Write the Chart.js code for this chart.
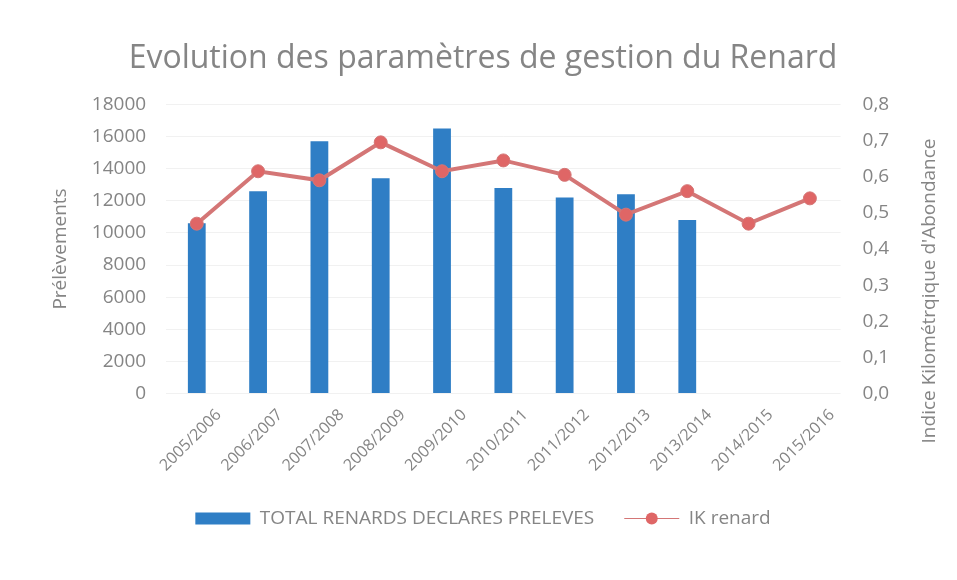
<!DOCTYPE html>
<html>
<head>
<meta charset="utf-8">
<script src="https://cdn.jsdelivr.net/npm/chart.js@4"></script>
<style>
  html, body { margin: 0; padding: 0; background: #ffffff; }
  #wrap { width: 957px; height: 580px; }
</style>
</head>
<body>
<div id="wrap"><canvas id="chart-renard" width="957" height="580"></canvas></div>
<script>
// Saisons
const categories = ['2005/2006', '2006/2007', '2007/2008', '2008/2009', '2009/2010',
    '2010/2011', '2011/2012', '2012/2013', '2013/2014', '2014/2015', '2015/2016'];

// Prélèvements déclarés (axe de gauche)
const prelevements = [10600, 12600, 15700, 13400, 16500, 12800, 12200, 12400, 10800, null, null];

// IK renard (axe de droite)
const ikRenard = [0.47, 0.615, 0.59, 0.695, 0.615, 0.645, 0.605, 0.495, 0.56, 0.47, 0.54];

// Axes
const leftTicks = { min: 0, max: 18000, step: 2000 };
const rightTicks = { min: 0, max: 0.8, step: 0.1 };

const grey = '#858585';
const barBlue = '#2f7ec5';
const lineRed = '#d47676';
const pointRed = '#df6666';
const fontFamily = '"Open Sans", "Noto Sans", sans-serif';

Chart.defaults.font.family = fontFamily;
Chart.defaults.color = grey;

// Titre de l'axe de droite, écrit de bas en haut comme dans Excel
const rightTitle = {
    id: 'rightTitle',
    afterDraw(chart) {
        const s = chart.scales.y1;
        const ctx = chart.ctx;
        ctx.save();
        ctx.translate(s.right - 5 - 11, (chart.chartArea.top + chart.chartArea.bottom) / 2 + 42);
        ctx.rotate(-Math.PI / 2);
        ctx.font = '19px ' + fontFamily;
        ctx.fillStyle = grey;
        ctx.textAlign = 'center';
        ctx.textBaseline = 'middle';
        ctx.fillText("Indice Kilométrqique d'Abondance", 0, 0);
        ctx.restore();
    }
};

// Petit rond sur le symbole de ligne de la légende
const legendMarker = {
    id: 'legendMarker',
    afterDraw(chart) {
        const lg = chart.legend;
        if (!lg || !lg.legendHitBoxes || lg.legendHitBoxes.length < 2) return;
        const box = lg.legendHitBoxes[1];
        const w = lg.options.labels.pointStyleWidth;
        const ctx = chart.ctx;
        ctx.save();
        ctx.beginPath();
        ctx.arc(box.left + w / 2, box.top + box.height / 2, 6, 0, Math.PI * 2);
        ctx.fillStyle = pointRed;
        ctx.fill();
        ctx.restore();
    }
};

new Chart(document.getElementById('chart-renard'), {
    data: {
        labels: categories,
        datasets: [
            {
                type: 'line',
                label: 'IK renard',
                data: ikRenard,
                yAxisID: 'y1',
                borderColor: lineRed,
                backgroundColor: pointRed,
                borderWidth: 4,
                pointStyle: 'circle',
                pointRadius: 6.5,
                pointBackgroundColor: pointRed,
                pointBorderColor: lineRed,
                pointBorderWidth: 1,
                order: 0
            },
            {
                type: 'bar',
                label: 'TOTAL RENARDS DECLARES PRELEVES',
                data: prelevements,
                yAxisID: 'y',
                backgroundColor: barBlue,
                borderWidth: 0,
                barPercentage: 0.29,
                categoryPercentage: 1,
                order: 1
            }
        ]
    },
    options: {
        responsive: false,
        animation: false,
        layout: { padding: { left: 20, right: 11, top: 0, bottom: 42 } },
        plugins: {
            title: {
                display: true,
                text: 'Evolution des paramètres de gestion du Renard',
                color: grey,
                font: { size: 32, weight: 'normal' },
                padding: { top: 40, bottom: 26 }
            },
            legend: {
                position: 'bottom',
                reverse: true,
                labels: {
                    usePointStyle: true,
                    pointStyleWidth: 55,
                    boxHeight: 12,
                    padding: 30,
                    color: grey,
                    font: { size: 19 },
                    generateLabels(chart) {
                        const items = Chart.defaults.plugins.legend.labels.generateLabels(chart);
                        items.forEach(it => {
                            it.pointStyle = chart.data.datasets[it.datasetIndex].type === 'line' ? 'line' : 'rect';
                        });
                        return items;
                    }
                }
            },
            tooltip: { enabled: false }
        },
        scales: {
            x: {
                grid: { display: false },
                border: { display: false },
                ticks: {
                    color: grey,
                    font: { size: 16 },
                    maxRotation: 45,
                    minRotation: 45,
                    labelOffset: 22,
                    padding: 4
                }
            },
            y: {
                position: 'left',
                min: leftTicks.min,
                max: leftTicks.max,
                grid: { color: '#f1f1f1', drawTicks: false },
                border: { display: false },
                ticks: {
                    stepSize: leftTicks.step,
                    color: grey,
                    font: { size: 19 },
                    padding: 20,
                    callback: v => String(v)
                },
                title: {
                    display: true,
                    text: 'Prélèvements',
                    color: grey,
                    font: { size: 19 },
                    padding: { top: 29, bottom: 0 }
                }
            },
            y1: {
                position: 'right',
                min: rightTicks.min,
                max: rightTicks.max,
                grid: { display: false, drawTicks: false },
                border: { display: false },
                ticks: {
                    stepSize: rightTicks.step,
                    color: grey,
                    font: { size: 19 },
                    padding: 22,
                    callback: v => v.toFixed(1).replace('.', ',')
                },
                title: {
                    display: true,
                    text: "Indice Kilométrqique d'Abondance",
                    color: 'rgba(0,0,0,0)',
                    font: { size: 19 },
                    padding: { top: 5, bottom: 7 }
                }
            }
        }
    },
    plugins: [rightTitle, legendMarker]
});
</script>
</body>
</html>
